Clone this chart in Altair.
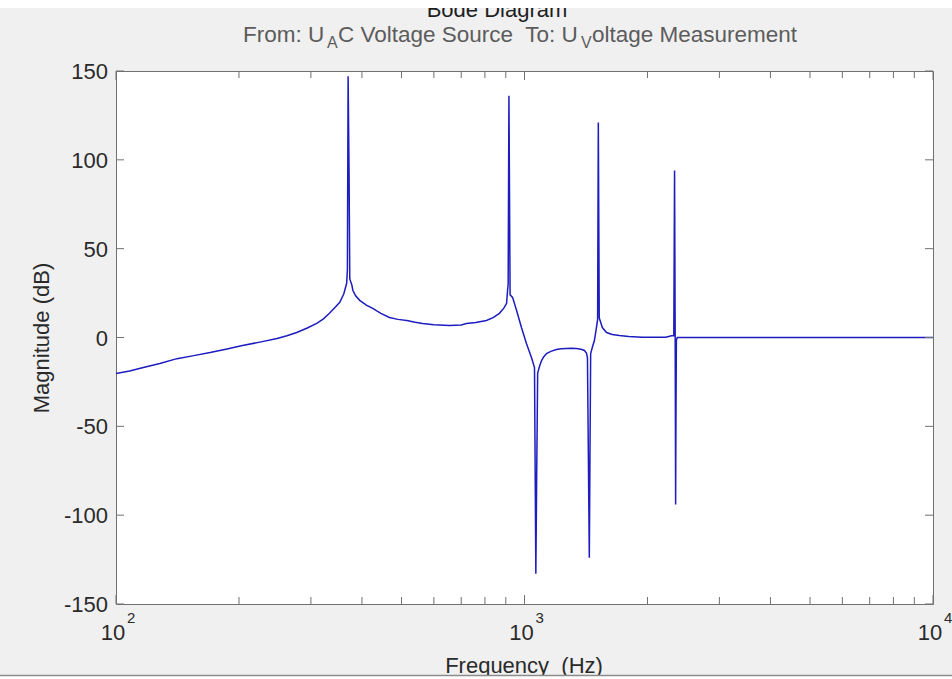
import altair as alt
import pandas as pd

# ---------------- data ----------------
freq_hz = [100, 108, 116, 128, 141, 155, 170, 187, 204, 225,
           248, 262, 277, 293, 310, 322, 333, 344, 353, 361,
           367, 368.5, 370, 372, 373.5, 378, 380, 386, 395, 410,
           425, 445, 467, 490, 515, 540, 563, 600, 655, 700,
           721, 760, 807, 840, 868, 890, 904, 909, 912, 916,
           919, 922, 935, 956, 983, 1011, 1040, 1058, 1066, 1071,
           1077, 1090, 1101, 1115, 1132, 1160, 1197, 1230, 1267, 1300,
           1340, 1375, 1402, 1418, 1426, 1441, 1446, 1452, 1470, 1483,
           1500, 1510, 1516, 1520, 1524, 1551, 1588, 1640, 1707, 1800,
           1939, 2217, 2290, 2320, 2330, 2334, 2338, 2344, 2348, 2354,
           2365, 3000, 5000, 10000]
magnitude_db = [-20.3, -18.8, -17.0, -14.6, -11.9, -10.2, -8.5, -6.5, -4.5, -2.6,
                -0.6, 1.0, 2.8, 5.2, 7.9, 10.5, 13.6, 17.0, 19.8, 24.5,
                30.5, 37.9, 147, 92, 33, 29.4, 26.6, 23.5, 20.9, 18.2,
                16.4, 13.6, 11.3, 10.2, 9.6, 8.6, 7.9, 7.2, 6.8, 7.1,
                7.9, 8.5, 9.6, 11.3, 13.6, 16.5, 19.2, 26.6, 30, 136,
                81, 24, 22.6, 15.3, 5.6, -3.4, -11.3, -16.9, -133, -79,
                -20, -15.8, -13, -10.8, -9.0, -7.8, -6.8, -6.3, -6.2, -6.1,
                -6.2, -6.6, -7.3, -8.8, -11.3, -124, -69, -9, -4.5, -1.7,
                5.6, 10, 121, 66, 11, 5.6, 2.8, 1.7, 1.1, 0.6,
                0.2, 0.2, 1.0, 1.0, 94, 48, 0.5, -94, -47, -1.5,
                0, 0, 0, 0]

y_tick_values = [-150, -100, -50, 0, 50, 100, 150]
y_tick_labels = ["-150", "-100", "-50", "0", "50", "100", "150"]
x_major_ticks = [100, 1000, 10000]
x_tick_bases = ["10", "10", "10"]
x_tick_exponents = ["2", "3", "4"]
x_minor_ticks = [200, 300, 400, 500, 600, 700, 800, 900,
                 2000, 3000, 4000, 5000, 6000, 7000, 8000, 9000]

title_text = "Bode Diagram"
sub_parts = ["From: U", "A", "C Voltage Source\u00a0 To: U", "V", "oltage Measurement"]
y_title = "Magnitude (dB)"
x_title = "Frequency\u00a0 (Hz)"

# ---------------- layout ----------------
W, H = 817, 533
FONT = "Liberation Sans"
FRAME = "#707070"
LINE = "#1c1cc0"
TXT = "#2a2a2a"
SUB = "#5c5c5c"
FS = 22
SFS = 22.5

xscale = alt.Scale(type="log", domain=[100, 10000], nice=False)
yscale = alt.Scale(domain=[-150, 150], nice=False, zero=False)

one = alt.Data(values=[{"k": 1}])

curve_df = pd.DataFrame({"f": freq_hz, "m": magnitude_db, "i": list(range(len(freq_hz)))})
curve = alt.Chart(curve_df).mark_line(color=LINE, strokeWidth=1.5, clip=True).encode(
    x=alt.X("f:Q", scale=xscale, axis=None),
    y=alt.Y("m:Q", scale=yscale, axis=None),
    order="i:Q",
)

yt_df = pd.DataFrame({"v": y_tick_values, "lab": y_tick_labels})
xmaj_df = pd.DataFrame({"f": x_major_ticks, "b": x_tick_bases, "e": x_tick_exponents})
xmin_df = pd.DataFrame({"f": x_minor_ticks})

def xticks(df, length):
    bottom = alt.Chart(df).mark_rule(color=FRAME, strokeWidth=1).encode(
        x=alt.X("f:Q", scale=xscale, axis=None), y=alt.value(H), y2=alt.value(H - length))
    top = alt.Chart(df).mark_rule(color=FRAME, strokeWidth=1).encode(
        x=alt.X("f:Q", scale=xscale, axis=None), y=alt.value(0), y2=alt.value(length))
    return [bottom, top]

yt_left = alt.Chart(yt_df).mark_rule(color=FRAME, strokeWidth=1).encode(
    y=alt.Y("v:Q", scale=yscale, axis=None), x=alt.value(0), x2=alt.value(8))
yt_right = alt.Chart(yt_df).mark_rule(color=FRAME, strokeWidth=1).encode(
    y=alt.Y("v:Q", scale=yscale, axis=None), x=alt.value(W - 8), x2=alt.value(W))

ylabels = alt.Chart(yt_df).mark_text(font=FONT, fontSize=FS, color=TXT, align="right",
                                     baseline="middle", dy=1).encode(
    y=alt.Y("v:Q", scale=yscale, axis=None), x=alt.value(-8), text="lab:N")

xbase = alt.Chart(xmaj_df).mark_text(font=FONT, fontSize=FS, color=TXT, align="center",
                                     baseline="alphabetic", dx=-3).encode(
    x=alt.X("f:Q", scale=xscale, axis=None), y=alt.value(H + 36), text="b:N")
xexp = alt.Chart(xmaj_df).mark_text(font=FONT, fontSize=15, color=TXT, align="left",
                                    baseline="alphabetic", dx=11).encode(
    x=alt.X("f:Q", scale=xscale, axis=None), y=alt.value(H + 19), text="e:N")

def label(text, x, y, size=FS, color=TXT, align="center", angle=0, baseline="alphabetic"):
    kw = dict(font=FONT, fontSize=size, color=color, align=align, baseline=baseline)
    if angle:
        kw["angle"] = angle
    return alt.Chart(one).mark_text(**kw).encode(
        x=alt.value(x), y=alt.value(y), text=alt.value(text))

texts = [
    label(title_text, 381, -54, color="#1e1e1e"),
    label(sub_parts[0], 127, -29, size=SFS, color=SUB, align="left"),
    label(sub_parts[1], 211, -23, size=16, color=SUB, align="left"),
    label(sub_parts[2], 222, -29, size=SFS, color=SUB, align="left"),
    label(sub_parts[3], 465, -23, size=16, color=SUB, align="left"),
    label(sub_parts[4], 476, -29, size=SFS, color=SUB, align="left"),
    label(y_title, -74, 267, angle=270, baseline="middle"),
    label(x_title, 408, 602),
]

# screenshot edges: white strip on top, grey rule + white strip at bottom
top_strip = alt.Chart(one).mark_rect(color="white").encode(
    x=alt.value(-116), x2=alt.value(W + 19), y=alt.value(-71), y2=alt.value(-63))
bottom_strip = alt.Chart(one).mark_rect(color="white").encode(
    x=alt.value(-116), x2=alt.value(W + 19), y=alt.value(H + 72), y2=alt.value(H + 76))
bottom_rule = alt.Chart(one).mark_rule(color="#8c8c8c", strokeWidth=1.5).encode(
    x=alt.value(-116), x2=alt.value(W + 19), y=alt.value(H + 71.5))

layers = ([curve] + xticks(xmaj_df, 9) + xticks(xmin_df, 7) + [yt_left, yt_right, ylabels, xbase, xexp]
          + texts + [top_strip, bottom_strip, bottom_rule])

chart = alt.layer(*layers).properties(
    width=W, height=H,
    padding={"left": 116, "top": 71, "right": 19, "bottom": 75},
    autosize=alt.AutoSizeParams(type="none"),
    background="#f0f0f0",
).configure_view(fill="white", stroke=FRAME, strokeWidth=1)

chart.save("out.html", embed_options={"renderer": "svg", "actions": False})
